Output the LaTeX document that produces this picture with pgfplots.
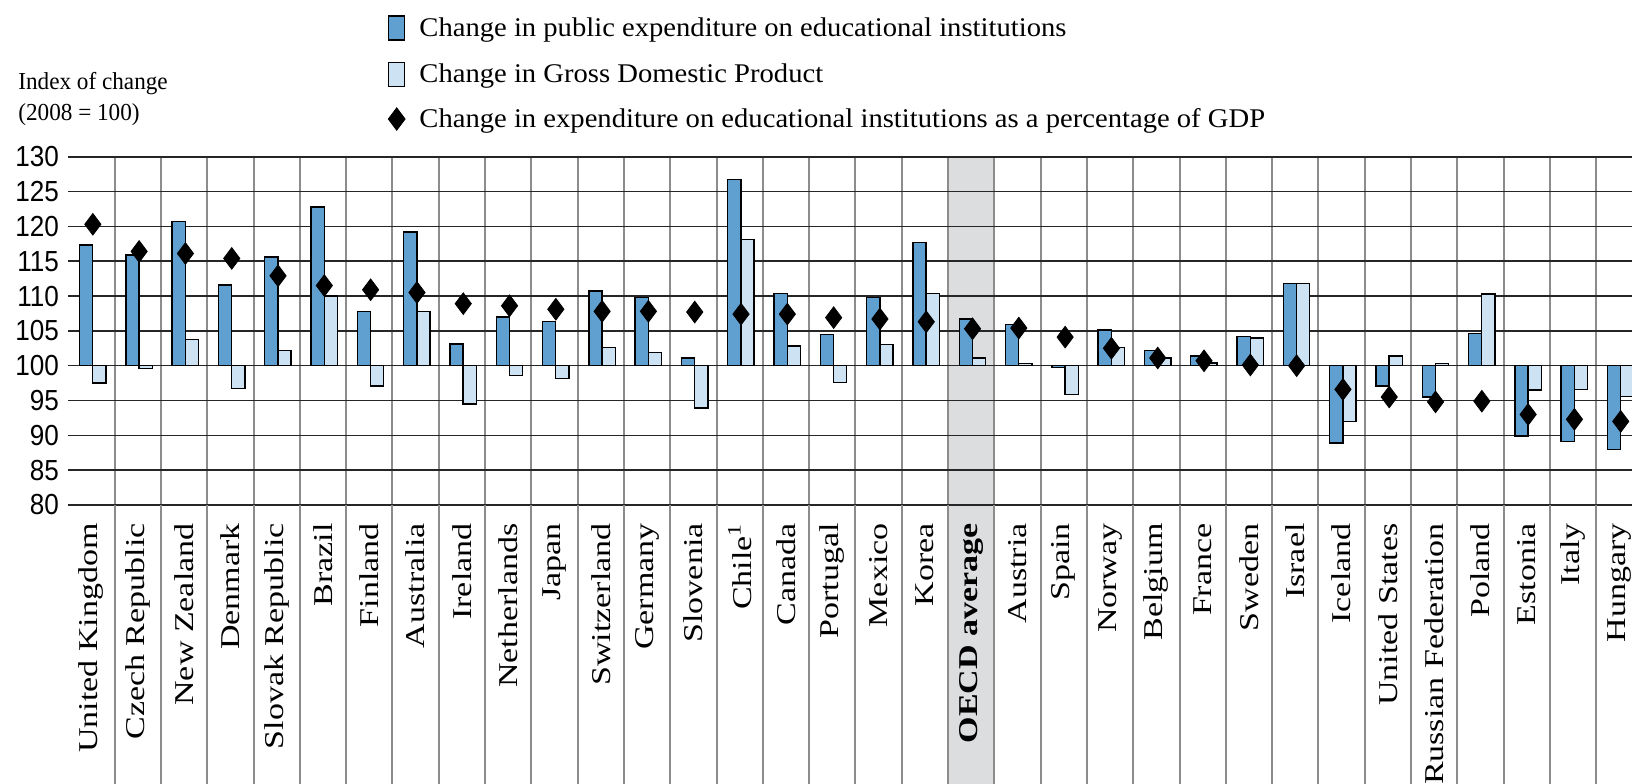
\documentclass[border=0pt]{standalone}
\usepackage{pgfplots}
\pgfplotsset{compat=1.18}
\usepackage{pgfplotstable}
\usepackage{fontspec}
\setmainfont{Liberation Serif}
\newfontfamily\labfont[FakeStretch=1.25]{Liberation Serif}
\newfontfamily\legfont[FakeStretch=1.06]{Liberation Serif}
\newfontfamily\tickfont[FakeStretch=0.9]{Liberation Sans}
\newfontfamily\idxfont[FakeStretch=0.95]{Liberation Serif}
\definecolor{pubblue}{RGB}{95,160,208}
\definecolor{gdpblue}{RGB}{205,226,242}
\definecolor{oecdgrey}{RGB}{220,221,223}

\pgfplotstableread{
pub   gdp   pct
117.3 97.5  120.3
115.9 99.6  116.4
120.7 103.8 116.1
111.6 96.7  115.4
115.6 102.2 112.9
122.8 110.0 111.5
107.8 97.1  110.9
119.2 107.8 110.5
103.1 94.5  108.9
107.0 98.6  108.6
106.3 98.2  108.1
110.7 102.6 107.8
109.8 101.9 107.8
101.1 93.9  107.7
126.7 118.1 107.4
110.4 102.8 107.4
104.5 97.6  106.9
109.8 103.0 106.7
117.7 110.4 106.3
106.7 101.1 105.3
105.9 100.3 105.4
99.7  95.9  104.1
105.1 102.6 102.5
102.2 101.1 101.1
101.4 100.4 100.7
104.2 104.0 100.1
111.8 111.8 100.0
88.9  92.0  96.6
97.1  101.4 95.5
95.5  100.3 94.8
104.6 110.3 94.9
89.9  96.5  93.0
89.1  96.6  92.3
88.0  95.6  92.0
}\datatable

\begin{document}
\begin{tikzpicture}
\begin{axis}[
  set layers,
  scale only axis,
  width=787.1pt, height=174.15pt,
  at={(34.15pt,139pt)}, anchor=south west,
  xmin=-0.5, xmax=33.5,
  ymin=-20, ymax=30,
  ytick={-20,-15,...,30},
  yticklabels={80,85,90,95,100,105,110,115,120,125,130},
  xtick={0,...,33},
  xticklabels={United Kingdom,Czech Republic,New Zealand,Denmark,Slovak Republic,Brazil,Finland,Australia,Ireland,Netherlands,Japan,Switzerland,Germany,Slovenia,Chile\textsuperscript{1},Canada,Portugal,Mexico,Korea,{\bfseries OECD average},Austria,Spain,Norway,Belgium,France,Sweden,Israel,Iceland,United States,Russian Federation,Poland,Estonia,Italy,Hungary},
  minor xtick={0.5,1.5,...,32.5},
  xminorgrids, ymajorgrids,
  major tick length=0pt,
  minor tick length=140pt,
  xtick align=outside,
  tick pos=left,
  axis line style={draw=none},
  major grid style={black!85, line width=0.8pt},
  minor grid style={black!45, line width=1pt},
  minor tick style={black!45, line width=1pt},
  clip=false,
  xticklabel style={font=\labfont\fontsize{13.6}{14}\selectfont, rotate=90, anchor=east, inner sep=0pt},
  xticklabel shift=9pt,
  yticklabel style={font=\tickfont\fontsize{14.5}{15}\selectfont, anchor=east, inner sep=0pt},
  yticklabel shift=4.5pt,
  legend cell align=left,
  legend style={at={(axis description cs:0.2031,1.4055)}, anchor=north west, draw=none, fill=none,
    inner sep=0pt, outer sep=0pt, row sep=10.4pt, column sep=7pt,
    font=\legfont\fontsize{13.5}{14}\selectfont, nodes={inner sep=0pt}},
]
\begin{pgfonlayer}{axis background}
\fill[oecdgrey] (axis cs:18.5,30) rectangle (axis cs:19.5,-60);
\end{pgfonlayer}
\addplot[ybar, bar width=0.285, bar shift=-0.115, fill=pubblue, draw=black, line width=0.7pt,
  legend image code/.code={\draw[fill=pubblue, draw=black, line width=0.7pt] (0pt,-6pt) rectangle (8pt,6pt);}]
  table[x expr=\coordindex, y expr=\thisrow{pub}-100]{\datatable};
\addlegendentry{Change in public expenditure on educational institutions}
\addplot[ybar, bar width=0.285, bar shift=0.17, fill=gdpblue, draw=black, line width=0.7pt,
  legend image code/.code={\draw[fill=gdpblue, draw=black, line width=0.7pt] (0pt,-6pt) rectangle (8pt,6pt);}]
  table[x expr=\coordindex, y expr=\thisrow{gdp}-100]{\datatable};
\addlegendentry{Change in Gross Domestic Product}
\addplot[only marks, mark=diamond*, mark size=5.4pt, black,
  legend image code/.code={\draw[black, mark=diamond*, mark size=5.6pt] plot coordinates {(4pt,0pt)};}]
  table[x expr=\coordindex+0.03, y expr=\thisrow{pct}-100]{\datatable};
\addlegendentry{Change in expenditure on educational institutions as a percentage of GDP}
\end{axis}
\node[anchor=base west, inner sep=0pt, font=\idxfont\fontsize{12.2}{13}\selectfont] at (9pt,346.5pt) {Index of change};
\node[anchor=base west, inner sep=0pt, font=\idxfont\fontsize{12.2}{13}\selectfont] at (9pt,331pt) {(2008 = 100)};
\pgfresetboundingbox
\path[use as bounding box] (0,0) rectangle (816pt,391.5pt);
\end{tikzpicture}
\end{document}
